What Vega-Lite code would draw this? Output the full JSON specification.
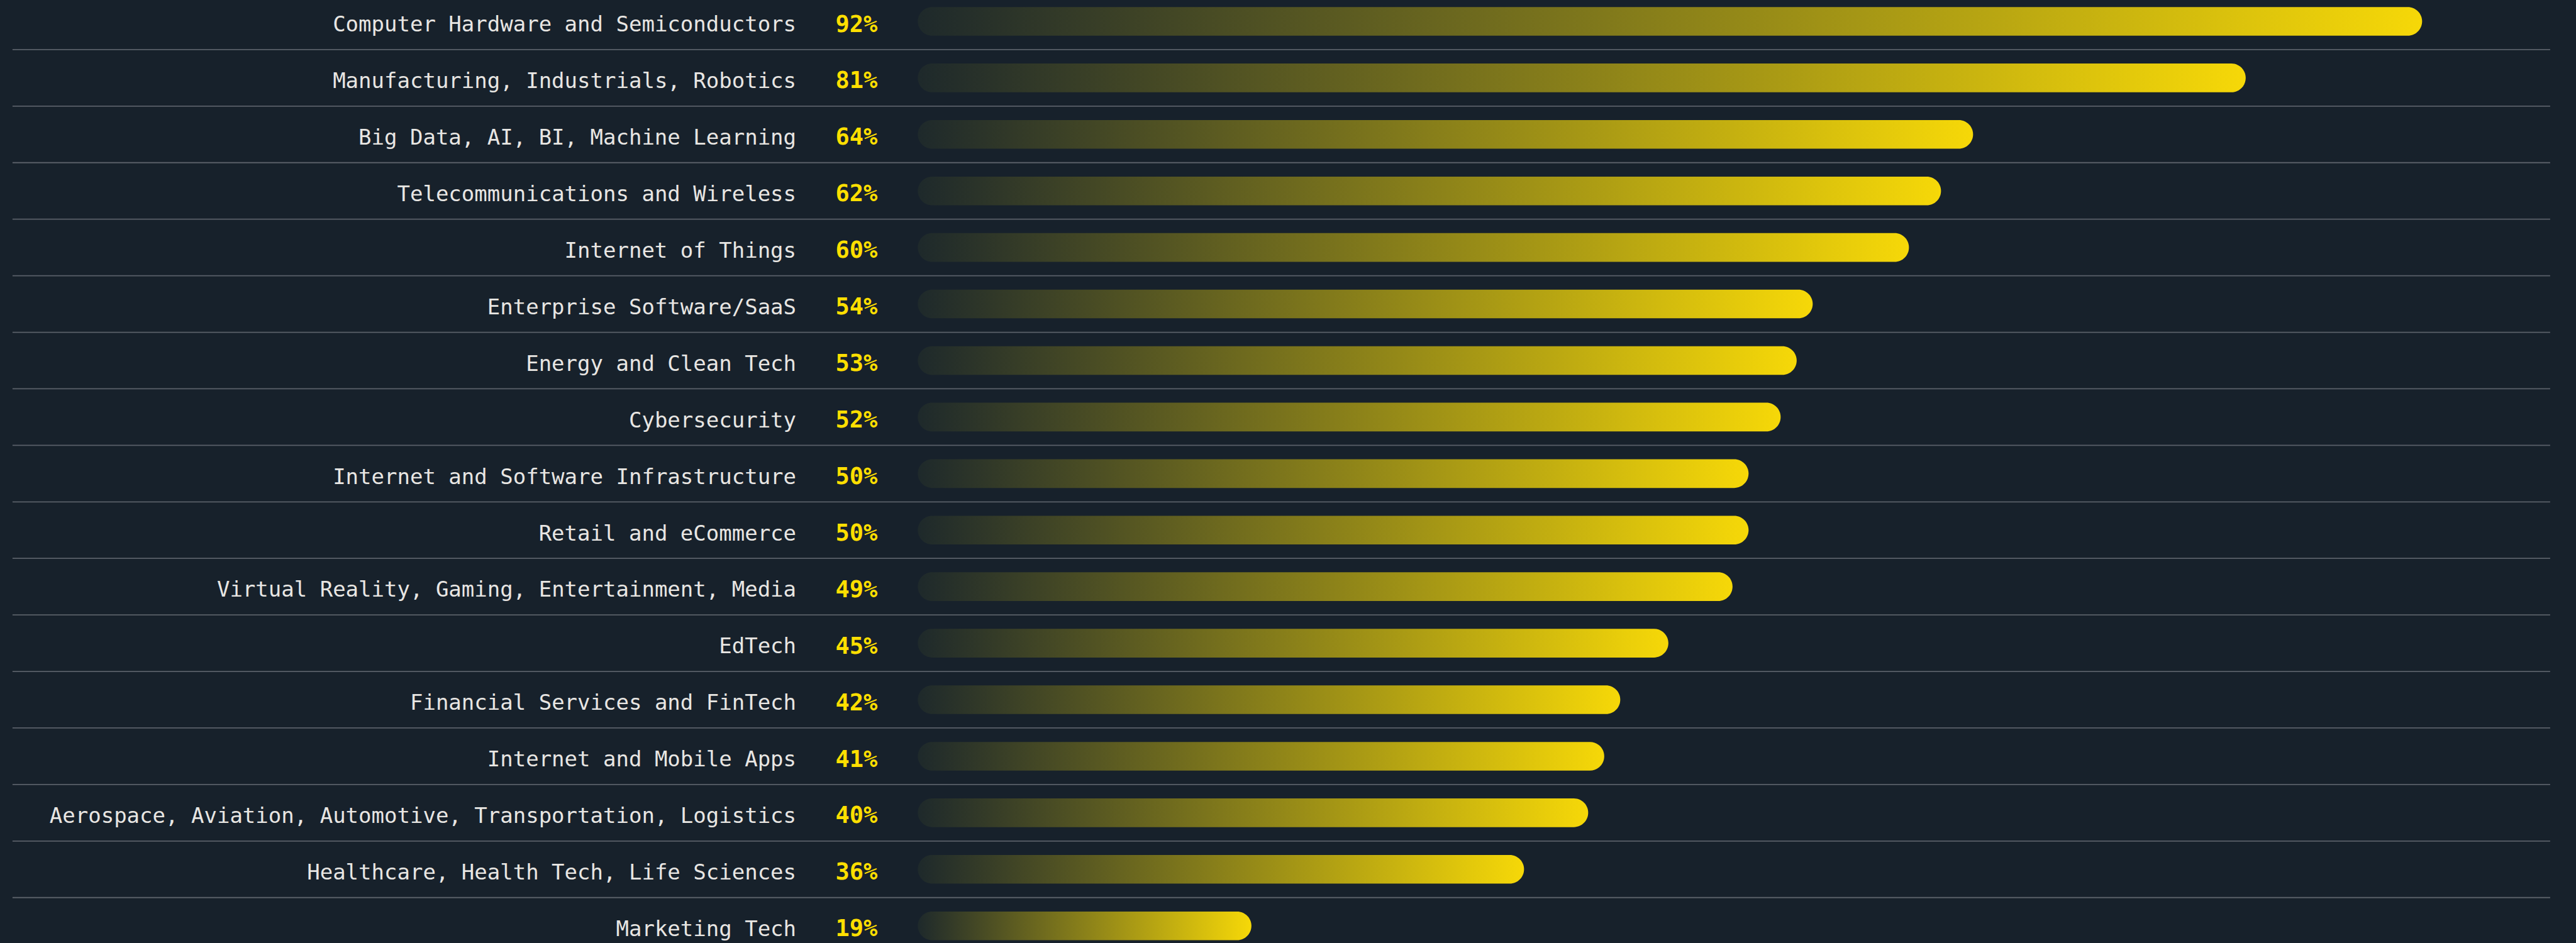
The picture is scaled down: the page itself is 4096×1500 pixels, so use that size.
{
  "$schema": "https://vega.github.io/schema/vega-lite/v6.json",
  "width": 4096,
  "height": 1500,
  "autosize": {"type": "none"},
  "padding": 0,
  "background": "#17212b",
  "config": {"view": {"stroke": null}},
  "data": {"values": [
    {"label": "Computer Hardware and Semiconductors", "share": 0.92},
    {"label": "Manufacturing, Industrials, Robotics", "share": 0.81},
    {"label": "Big Data, AI, BI, Machine Learning", "share": 0.64},
    {"label": "Telecommunications and Wireless", "share": 0.62},
    {"label": "Internet of Things", "share": 0.60},
    {"label": "Enterprise Software/SaaS", "share": 0.54},
    {"label": "Energy and Clean Tech", "share": 0.53},
    {"label": "Cybersecurity", "share": 0.52},
    {"label": "Internet and Software Infrastructure", "share": 0.50},
    {"label": "Retail and eCommerce", "share": 0.50},
    {"label": "Virtual Reality, Gaming, Entertainment, Media", "share": 0.49},
    {"label": "EdTech", "share": 0.45},
    {"label": "Financial Services and FinTech", "share": 0.42},
    {"label": "Internet and Mobile Apps", "share": 0.41},
    {"label": "Aerospace, Aviation, Automotive, Transportation, Logistics", "share": 0.40},
    {"label": "Healthcare, Health Tech, Life Sciences", "share": 0.36},
    {"label": "Marketing Tech", "share": 0.19}
  ]},
  "encoding": {
    "y": {
      "field": "label", "type": "nominal", "sort": null, "axis": null,
      "scale": {"range": [-10.99, 1517.65], "paddingInner": 0, "paddingOuter": 0}
    }
  },
  "resolve": {"scale": {"x": "shared"}},
  "layer": [
    {
      "mark": {"type": "bar", "size": 45.6, "cornerRadius": 22.8, "xOffset": 46,
        "fill": {
          "gradient": "linear", "x1": 0, "y1": 0, "x2": 1, "y2": 0,
          "stops": [
            {"offset": 0, "color": "#1e292b"},
            {"offset": 1, "color": "#f6d808"}
          ]
        }
      },
      "encoding": {
        "x": {"field": "share", "type": "quantitative", "axis": null, "scale": {"domain": [-0.5723, 1.034], "nice": false, "zero": false}},
        "x2": {"datum": 0}
      }
    },
    {
      "mark": {"type": "rule", "stroke": "#5a6069", "strokeWidth": 1.8},
      "encoding": {
        "y": {"field": "label", "type": "nominal", "sort": null, "bandPosition": 1},
        "x": {"datum": -0.5645, "type": "quantitative"},
        "x2": {"datum": 1.0179}
      }
    },
    {
      "mark": {"type": "text", "align": "right", "baseline": "alphabetic", "dy": 16.3, "font": "DejaVu Sans Mono", "fontSize": 34, "fill": "#e8e6e3"},
      "encoding": {
        "x": {"datum": -0.0758, "type": "quantitative"},
        "text": {"field": "label"}
      }
    },
    {
      "mark": {"type": "text", "align": "left", "baseline": "alphabetic", "dy": 16.6, "font": "DejaVu Sans Mono", "fontWeight": "bold", "fontSize": 37, "fill": "#ffdf00"},
      "encoding": {
        "x": {"datum": -0.0513, "type": "quantitative"},
        "text": {"field": "share", "type": "quantitative", "format": ".0%"}
      }
    }
  ]
}
